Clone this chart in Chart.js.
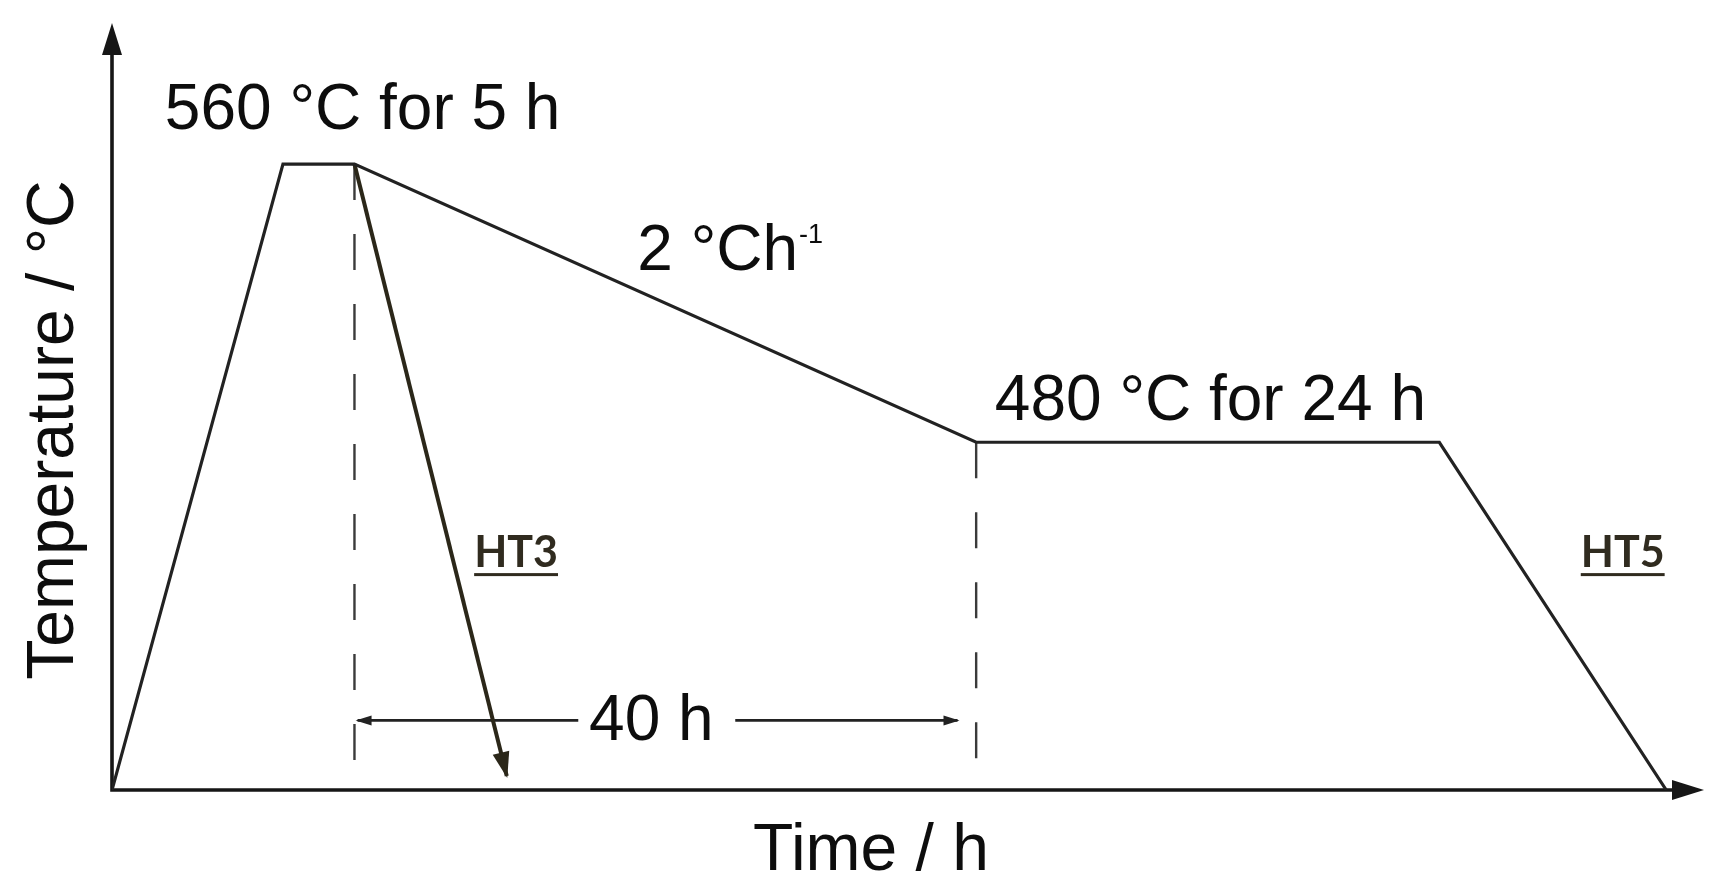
<!DOCTYPE html>
<html>
<head>
<meta charset="utf-8">
<script src="https://cdn.jsdelivr.net/npm/chart.js@4.4.1/dist/chart.umd.min.js"></script>
<style>
  html, body { margin: 0; padding: 0; background: #fff; }
  #wrap { width: 1725px; height: 890px; position: relative; }
</style>
</head>
<body>
<div id="wrap"><canvas id="heatChart"></canvas></div>
<script>
// schematic heat treatment (time in h, temperature in °C) - axis has no ticks
var profileTime = [0, 11, 15.6, 55.6, 85.4, 100];
var profileTemp = [380, 560, 560, 480, 480, 380];

// HT3 : quench straight from the 560 °C hold
var quenchTime = [15.6, 25.4];
var quenchTemp = [560, 384];

// dashed guides for the 40 h slow cool
var guideTime = [15.6, 55.6];
var guideTop = [560, 480];
var guideBottom = 386.5;

// "40 h" dimension arrow, broken where the label sits
var spanTime = [15.8, 30.0, 40.1, 54.4];
var spanTemp = 400;

var timeRange = [0, 102.3];
var tempRange = [380, 600];

var notes = [
  {text: '560 °C for 5 h', t: 3.4, T: 570},
  {text: '2 °Ch', sup: '-1', t: 33.8, T: 529.5},
  {text: '480 °C for 24 h', t: 56.8, T: 486.4},
  {text: '40 h', t: 34.7, T: 394.4, center: true},
  {text: 'HT3', t: 23.3, T: 444.1, tag: true},
  {text: 'HT5', t: 94.5, T: 444.1, tag: true}
];

var xTitle = 'Time / h';
var yTitle = 'Temperature / °C';

var mainFont = '"Liberation Sans", Arial, sans-serif';

function pts(xs, ys) {
  return xs.map(function(t, i){ return {x: t, y: Array.isArray(ys) ? ys[i] : ys}; });
}

function arrowHead(ctx, fx, fy, tx, ty, len, half, color) {
  var ang = Math.atan2(ty - fy, tx - fx);
  ctx.save();
  ctx.translate(tx, ty);
  ctx.rotate(ang);
  ctx.beginPath();
  ctx.moveTo(2, 0);
  ctx.lineTo(-len, -half);
  ctx.lineTo(-len, half);
  ctx.closePath();
  ctx.fillStyle = color;
  ctx.fill();
  ctx.restore();
}

var datasets = [];
datasets.push({data: pts(profileTime, profileTemp), borderColor: '#222', borderWidth: 3.2});
datasets.push({data: pts(quenchTime, quenchTemp), borderColor: '#2b2719', borderWidth: 4,
  heads: [{end: true, len: 24, half: 8.5}]});
guideTime.forEach(function(t, i){
  datasets.push({data: pts([t, t], [guideTop[i], guideBottom]), borderColor: '#3a3a3a', borderWidth: 2.4,
    borderDash: [36, 34]});
});
datasets.push({
  data: [
    {x: spanTime[0], y: spanTemp}, {x: spanTime[1], y: spanTemp},
    {x: (spanTime[1] + spanTime[2]) / 2, y: null},
    {x: spanTime[2], y: spanTemp}, {x: spanTime[3], y: spanTemp}
  ],
  borderColor: '#222', borderWidth: 2.8,
  heads: [{end: false, len: 14, half: 5}, {end: true, len: 14, half: 5}]
});

var sketchPlugin = {
  id: 'sketch',
  beforeDatasetsDraw: function(chart) {
    var ctx = chart.ctx, a = chart.chartArea;
    ctx.save();
    ctx.strokeStyle = '#161616';
    ctx.lineWidth = 3.6;
    ctx.beginPath();
    ctx.moveTo(a.left, a.top + 20);
    ctx.lineTo(a.left, a.bottom);
    ctx.lineTo(a.right - 20, a.bottom);
    ctx.stroke();
    ctx.restore();
    arrowHead(ctx, a.left, a.bottom, a.left, a.top, 30, 10, '#161616');
    arrowHead(ctx, a.left, a.bottom, a.right, a.bottom, 30, 10, '#161616');
  },
  afterDatasetsDraw: function(chart) {
    var ctx = chart.ctx;
    var xs = chart.scales.x, ys = chart.scales.y;

    chart.data.datasets.forEach(function(ds, i){
      if (!ds.heads) return;
      var el = chart.getDatasetMeta(i).data;
      ds.heads.forEach(function(h){
        var p = h.end ? el[el.length - 1] : el[0];
        var q = h.end ? el[el.length - 2] : el[1];
        arrowHead(ctx, q.x, q.y, p.x, p.y, h.len, h.half, ds.borderColor);
      });
    });

    ctx.save();
    notes.forEach(function(n){
      var px = xs.getPixelForValue(n.t), py = ys.getPixelForValue(n.T);
      ctx.textBaseline = 'alphabetic';
      if (n.tag) {
        ctx.font = 'bold 43px Lato, "Open Sans", sans-serif';
        ctx.fillStyle = '#302b1f';
        ctx.textAlign = 'left';
        ctx.fillText(n.text, px, py);
        var w = ctx.measureText(n.text).width;
        ctx.fillRect(px, py + 6, w, 3);
        return;
      }
      ctx.font = '64px ' + mainFont;
      ctx.fillStyle = '#0d0d0d';
      ctx.textAlign = n.center ? 'center' : 'left';
      ctx.fillText(n.text, px, py);
      if (n.sup) {
        var w2 = ctx.measureText(n.text).width;
        ctx.font = '27px ' + mainFont;
        ctx.textAlign = 'left';
        ctx.fillText(n.sup, px + w2 + 1, py - 27);
      }
    });

    // axis titles
    ctx.font = '66px ' + mainFont;
    ctx.fillStyle = '#0d0d0d';
    ctx.textAlign = 'center';
    ctx.textBaseline = 'alphabetic';
    ctx.fillText(xTitle, 871, 870);
    ctx.translate(73, 430);
    ctx.rotate(-Math.PI / 2);
    ctx.fillText(yTitle, 0, 0);
    ctx.restore();
  }
};

new Chart(document.getElementById('heatChart'), {
  type: 'line',
  data: {datasets: datasets},
  options: {
    responsive: true,
    maintainAspectRatio: false,
    animation: false,
    devicePixelRatio: 1,
    layout: {padding: {left: 112, top: 25, right: 23, bottom: 100}},
    elements: {
      point: {radius: 0, hoverRadius: 0},
      line: {tension: 0, fill: false, borderJoinStyle: 'miter', borderCapStyle: 'butt'}
    },
    plugins: {legend: {display: false}, tooltip: {enabled: false}},
    events: [],
    scales: {
      x: {type: 'linear', display: false, min: timeRange[0], max: timeRange[1]},
      y: {type: 'linear', display: false, min: tempRange[0], max: tempRange[1]}
    }
  },
  plugins: [sketchPlugin]
});
</script>
</body>
</html>
